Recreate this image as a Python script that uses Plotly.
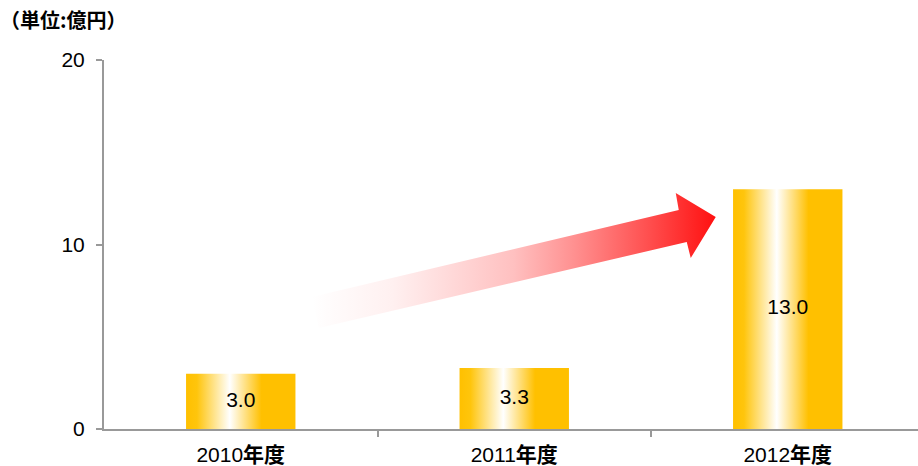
import plotly.graph_objects as go

# ---- data ----
categories = ["2010", "2011", "2012"]
values = [3.0, 3.3, 13.0]
value_labels = ["3.0", "3.3", "13.0"]
y_ticks = [0, 10, 20]
unit_title = "（単位:億円）"
cat_suffix = "年度"

# decorative trend arrow outline, in data units (x: category index, y: 億円)
arrow_x = [0.2596, 1.6015, 1.5905, 1.7367, 1.6453, 1.6307, 0.2852, 0.2596]
arrow_y = [7.154, 11.870, 12.791, 11.491, 9.268, 10.136, 5.474, 7.154]

BAR_HALF = 0.2
FONT = "Liberation Sans, Arial, Noto Sans CJK JP, sans-serif"
gold_scale = [[0, "#FFC000"], [0.1, "#FFC50C"], [0.4, "#FFFFFF"],
              [0.69, "#FFC000"], [1, "#FFC000"]]
arrow_scale = [[0, "#FFFFFF"], [0.2, "#FFF0F0"], [0.5, "#FFC0C0"],
               [0.65, "#FF9090"], [0.83, "#FF5050"], [1, "#FF1010"]]

fig = go.Figure()

# bars as gradient-filled rectangles built from the values
for i, v in enumerate(values):
    fig.add_trace(go.Scatter(
        x=[i - BAR_HALF, i + BAR_HALF, i + BAR_HALF, i - BAR_HALF, i - BAR_HALF],
        y=[0, 0, v, v, 0],
        mode="lines", line=dict(width=0), fill="toself",
        fillgradient=dict(type="horizontal", colorscale=gold_scale),
        hoverinfo="skip", showlegend=False,
    ))

# arrow
fig.add_trace(go.Scatter(
    x=arrow_x, y=arrow_y, mode="lines", line=dict(width=0), fill="toself",
    fillgradient=dict(type="horizontal", colorscale=arrow_scale),
    hoverinfo="skip", showlegend=False,
))

# value labels
fig.add_trace(go.Scatter(
    x=list(range(len(values))), y=[v / 2 for v in values],
    mode="text", text=value_labels,
    textfont=dict(family=FONT, size=21, color="#000000"),
    hoverinfo="skip", showlegend=False,
))

W, H = 918, 466
ML, MR, MT, MB = 104, 0, 60, 37
cat_px = 273.5
plot_w = W - ML - MR

fig.update_layout(
    width=W, height=H,
    margin=dict(l=ML, r=MR, t=MT, b=MB, pad=0),
    paper_bgcolor="white", plot_bgcolor="white",
    font=dict(family=FONT, size=21, color="#000000"),
    title=dict(text="<b>" + unit_title + "</b>", xref="container", yref="container",
               x=0.0, xanchor="left", y=1 - 21 / H, yanchor="middle",
               font=dict(family="Noto Sans CJK JP, sans-serif", size=20, color="#000000")),
    xaxis=dict(
        range=[-0.5, -0.5 + plot_w / cat_px],
        tickmode="array", tickvals=list(range(len(categories))),
        ticktext=[c + "<b>" + cat_suffix + "</b>" for c in categories],
        ticks="", showgrid=False, zeroline=False,
        showline=True, linecolor="#999999", linewidth=2,
        minor=dict(tickmode="array", tickvals=[0.5, 1.5], ticks="outside",
                   ticklen=6, tickcolor="#999999", tickwidth=2, showgrid=False),
        tickfont=dict(family=FONT, size=21, color="#000000"),
        ticklabelstandoff=6,
        automargin=False, fixedrange=True,
    ),
    yaxis=dict(
        range=[0, 20], tickmode="array", tickvals=y_ticks,
        ticks="outside", ticklen=6, tickcolor="#999999", tickwidth=2,
        showgrid=False, zeroline=False,
        showline=True, linecolor="#999999", linewidth=2,
        tickfont=dict(family=FONT, size=21, color="#000000"),
        ticklabelstandoff=7,
        automargin=False, fixedrange=True,
    ),
)

fig.write_html("out.html")
